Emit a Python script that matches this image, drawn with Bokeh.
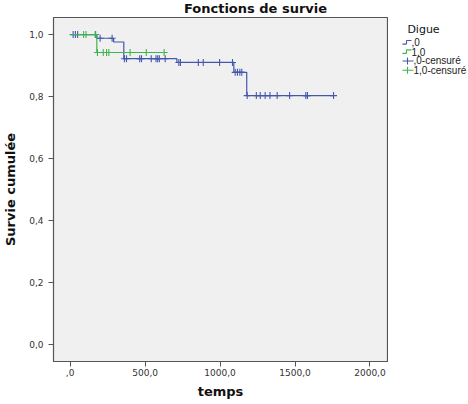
from bokeh.plotting import figure
from bokeh.models import Range1d, FixedTicker
from bokeh.layouts import column, row
from bokeh.core.properties import value
from bokeh.embed import file_html
from bokeh.resources import INLINE
import numpy as np

# Kaplan-Meier step functions (time, cumulative survival after each event)
digue0_t = [0, 178, 290, 358, 712, 1092, 1178]
digue0_s = [1.0, 0.988, 0.976, 0.922, 0.910, 0.878, 0.803]
digue0_end = 1757
digue0_cens = [20, 35, 50, 170, 200, 280, 362, 376, 464, 476, 541, 573, 584,
               595, 634, 725, 736, 855, 888, 997, 1083, 1101, 1116, 1132, 1145,
               1181, 1242, 1268, 1301, 1333, 1381, 1464, 1572, 1583, 1757]

digue1_t = [0, 178]
digue1_s = [1.0, 0.942]
digue1_end = 627
digue1_cens = [90, 106, 167, 182, 221, 243, 258, 400, 508, 627]

x_ticks = [0, 500, 1000, 1500, 2000]
x_tick_labels = [",0", "500,0", "1000,0", "1500,0", "2000,0"]
y_ticks = [0.0, 0.2, 0.4, 0.6, 0.8, 1.0]
y_tick_labels = ["0,0", "0,2", "0,4", "0,6", "0,8", "1,0"]

title_text = "Fonctions de survie"
legend_title = "Digue"
legend_labels = [",0", "1,0", ",0-censuré", "1,0-censuré"]

BLUE = "#4357ad"
GREEN = "#3fb54f"
FONT = "DejaVu Sans"
LEG_FONT = "Liberation Sans"
W, H = 468, 404
TITLE_H = 16
MAIN_W = 388


def blank(width, height, x0, y0):
    """A bare figure whose data units are page pixels (y downwards)."""
    f = figure(width=width, height=height, output_backend="svg",
               toolbar_location=None, title=None,
               x_range=Range1d(x0, x0 + width), y_range=Range1d(y0 + height, y0),
               min_border=0)
    f.axis.visible = False
    f.grid.visible = False
    f.outline_line_color = None
    f.background_fill_color = "white"
    f.border_fill_color = "white"
    return f


# ---- survival plot ----
p = figure(width=MAIN_W, height=H - TITLE_H, output_backend="svg",
           toolbar_location=None, title=None,
           x_range=Range1d(-111, 2117), y_range=Range1d(-0.055, 1.055),
           min_border_left=45, min_border_right=1, min_border_top=1,
           min_border_bottom=43)
p.background_fill_color = "#f0f0f0"
p.border_fill_color = "white"
p.outline_line_color = "#555555"
p.outline_line_width = 1.2
p.grid.visible = False


def survival_at(times, steps, values):
    idx = np.searchsorted(steps, times, side="right") - 1
    return [values[i] for i in idx]


for t, s, end, cens, col in [(digue0_t, digue0_s, digue0_end, digue0_cens, BLUE),
                             (digue1_t, digue1_s, digue1_end, digue1_cens, GREEN)]:
    xs = list(t) + [end]
    ys = list(s) + [s[-1]]
    p.step(xs, ys, mode="after", line_color=col, line_width=1.2)
    p.scatter(cens, survival_at(cens, t, s), marker="cross", size=7,
              line_color=col, line_width=1.1)

for ax in (p.xaxis[0], p.yaxis[0]):
    ax.axis_line_color = "#555555"
    ax.major_tick_line_color = "#555555"
    ax.minor_tick_line_color = None
    ax.major_tick_out = 5
    ax.major_tick_in = 0
    ax.major_label_text_font = FONT
    ax.major_label_text_font_size = "9px"
    ax.major_label_text_color = "#333333"
    ax.axis_label_text_font = FONT
    ax.axis_label_text_font_size = "13px"
    ax.axis_label_text_font_style = "bold"
    ax.axis_label_text_color = "#111111"

p.xaxis.ticker = FixedTicker(ticks=x_ticks)
p.xaxis.major_label_overrides = {k: v for k, v in zip(x_ticks, x_tick_labels)}
p.xaxis.major_label_standoff = 2
p.yaxis.ticker = FixedTicker(ticks=y_ticks)
p.yaxis.major_label_overrides = {k: v for k, v in zip(y_ticks, y_tick_labels)}
p.xaxis.axis_label = "temps"
p.yaxis.axis_label = "Survie cumulée"
p.xaxis.axis_label_standoff = 5
p.yaxis.axis_label_standoff = 8

# ---- title strip ----
t_fig = blank(W, TITLE_H, 0, 0)
t_fig.text(x=[255], y=[7.5], text=[title_text], text_align="center",
           text_baseline="middle", text_font=value(FONT),
           text_font_size="13px", text_font_style="bold", text_color="#111111")

# ---- legend panel ----
lg = blank(W - MAIN_W, H - TITLE_H, MAIN_W, TITLE_H)
lg.text(x=[423], y=[29], text=[legend_title], text_align="center",
        text_baseline="middle", text_font=value(FONT), text_font_size="11px",
        text_color="#111111")
rows = [44, 54.5, 65, 75.5]
cols = [BLUE, GREEN, BLUE, GREEN]
for i, (lab, yc, col) in enumerate(zip(legend_labels, rows, cols)):
    if i < 2:
        # step-shaped key for the survival curves
        lg.segment(x0=[402, 406, 406], y0=[yc + 2, yc + 2, yc - 2],
                   x1=[406, 406, 411], y1=[yc + 2, yc - 2, yc - 2],
                   line_color=col, line_width=1.1)
        tx = 411
    else:
        # cross key for censored observations
        lg.segment(x0=[402, 407], y0=[yc, yc - 4], x1=[413, 407], y1=[yc, yc + 4],
                   line_color=col, line_width=1.1)
        tx = 413
    lg.text(x=[tx], y=[yc], text=[lab], text_baseline="middle",
            text_font=value(LEG_FONT), text_font_size="10px",
            text_color="#222222")

layout = column(t_fig, row(p, lg))
open("out.html", "w").write(file_html(layout, INLINE))
